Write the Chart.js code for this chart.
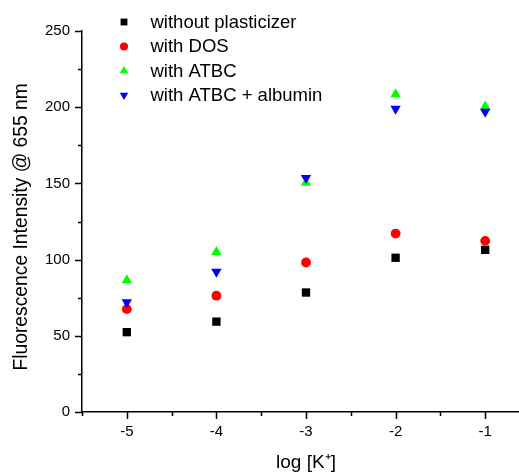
<!DOCTYPE html>
<html>
<head>
<meta charset="utf-8">
<script src="https://cdn.jsdelivr.net/npm/chart.js@4.4.1/dist/chart.umd.min.js"></script>
<style>
  html, body { margin: 0; padding: 0; background: #fff; overflow: hidden; }
  #wrap { width: 540px; height: 474px; }
</style>
</head>
<body>
<div id="wrap"><canvas id="chart" width="540" height="474"></canvas></div>
<script>
// log [K+] positions
const logK = [-5, -4, -3, -2, -1];

// fluorescence intensity @ 655 nm
const noPlasticizer = [52.4, 59.3, 78.4, 101.2, 106.4];
const withDOS = [67.5, 76.3, 98.1, 117.1, 112.3];
const withATBC = [86.5, 105, 150.5, 208.5, 200.5];
const withATBCAlbumin = [72, 92, 153.5, 199, 197];

const seriesNames = ['without plasticizer', 'with DOS', 'with ATBC', 'with ATBC + albumin'];

const FONT = "'Liberation Sans', Arial, sans-serif";

const toPoints = vals => vals.map((v, i) => ({ x: logK[i], y: v }));

// marker drawing for the legend (same shapes as the plot)
function drawMarker(ctx, style, x, y, r, rot, color) {
  ctx.fillStyle = color;
  ctx.beginPath();
  if (style === 'rect') {
    const s = r * Math.SQRT1_2;
    ctx.rect(x - s, y - s, 2 * s, 2 * s);
  } else if (style === 'circle') {
    ctx.arc(x, y, r, 0, Math.PI * 2);
  } else {
    let a = (rot || 0) * Math.PI / 180;
    ctx.moveTo(x + Math.sin(a) * r, y - Math.cos(a) * r);
    a += Math.PI * 2 / 3;
    ctx.lineTo(x + Math.sin(a) * r, y - Math.cos(a) * r);
    a += Math.PI * 2 / 3;
    ctx.lineTo(x + Math.sin(a) * r, y - Math.cos(a) * r);
    ctx.closePath();
  }
  ctx.fill();
}

const insideLegend = {
  id: 'insideLegend',
  afterDraw(chart) {
    const ctx = chart.ctx;
    ctx.save();
    ctx.font = '18.5px ' + FONT;
    ctx.textBaseline = 'middle';
    const sorted = chart.data.datasets.slice().sort((a, b) => a.legendIndex - b.legendIndex);
    sorted.forEach((ds, i) => {
      const y = 22 + i * 24.4;
      drawMarker(ctx, ds.pointStyle, 124, y, ds.pointRadius * 0.82, ds.rotation, ds.backgroundColor);
      ctx.fillStyle = '#000';
      ctx.fillText(ds.label, 150.5, y + 1);
    });
    ctx.restore();
  }
};

// outside tick marks, long for labelled values, short for the ones between
const tickMarks = {
  id: 'tickMarks',
  afterDraw(chart) {
    const { ctx, scales: { x, y } } = chart;
    ctx.save();
    ctx.strokeStyle = '#000';
    ctx.lineWidth = 1.5;
    y.ticks.forEach(t => {
      const py = Math.round(y.getPixelForValue(t.value)) + 0.5;
      const len = t.value % 50 === 0 ? 7 : 4;
      ctx.beginPath();
      ctx.moveTo(y.right - len, py);
      ctx.lineTo(y.right, py);
      ctx.stroke();
    });
    x.ticks.forEach(t => {
      const px = Math.round(x.getPixelForValue(t.value)) + 0.5;
      const len = Number.isInteger(t.value) ? 7 : 4;
      ctx.beginPath();
      ctx.moveTo(px, x.top);
      ctx.lineTo(px, x.top + len);
      ctx.stroke();
    });
    ctx.restore();
  }
};

const ctx = document.getElementById('chart').getContext('2d');

new Chart(ctx, {
  type: 'scatter',
  data: {
    datasets: [
      {
        label: seriesNames[0], legendIndex: 0, order: 3,
        data: toPoints(noPlasticizer),
        pointStyle: 'rect', pointRadius: 5.9, rotation: 0,
        backgroundColor: '#000000', borderWidth: 0
      },
      {
        label: seriesNames[1], legendIndex: 1, order: 2,
        data: toPoints(withDOS),
        pointStyle: 'circle', pointRadius: 4.9, rotation: 0,
        backgroundColor: '#ff0000', borderWidth: 0
      },
      {
        label: seriesNames[2], legendIndex: 2, order: 1,
        data: toPoints(withATBC),
        pointStyle: 'triangle', pointRadius: 6, rotation: 0,
        backgroundColor: '#00ff00', borderWidth: 0
      },
      {
        label: seriesNames[3], legendIndex: 3, order: 0,
        data: toPoints(withATBCAlbumin),
        pointStyle: 'triangle', pointRadius: 6, rotation: 180,
        backgroundColor: '#0000ff', borderWidth: 0
      }
    ]
  },
  options: {
    responsive: false,
    animation: false,
    layout: { padding: { left: 0, right: 10, top: 31, bottom: 0 } },
    plugins: {
      legend: { display: false },
      tooltip: { enabled: false }
    },
    scales: {
      x: {
        type: 'linear',
        min: -5.5,
        max: -0.5,
        afterFit: scale => { scale.height = 62; },
        border: { display: true, color: '#000', width: 1.5 },
        grid: { display: true, drawOnChartArea: false, drawTicks: true, tickLength: 7, tickColor: 'rgba(0,0,0,0)' },
        ticks: {
          stepSize: 0.5,
          padding: 4,
          color: '#000',
          font: { family: FONT, size: 15 },
          maxRotation: 0,
          autoSkip: false,
          callback: v => Number.isInteger(v) ? String(v) : ''
        },
        title: {
          display: true,
          text: 'log [K\u207A]',
          color: '#000',
          font: { family: FONT, size: 19 },
          padding: { top: 0, bottom: 0 }
        }
      },
      y: {
        min: 0,
        max: 250,
        afterFit: scale => { scale.width = 82; },
        border: { display: true, color: '#000', width: 1.5 },
        grid: { display: true, drawOnChartArea: false, drawTicks: true, tickLength: 7, tickColor: 'rgba(0,0,0,0)' },
        ticks: {
          stepSize: 25,
          padding: 5,
          color: '#000',
          font: { family: FONT, size: 15 },
          autoSkip: false,
          callback: v => v % 50 === 0 ? String(v) : ''
        },
        title: {
          display: true,
          // two trailing spaces nudge the rotated title down a little, as in the original
          text: 'Fluorescence Intensity @ 655 nm  ',
          color: '#000',
          font: { family: FONT, size: 19.3 },
          padding: { top: 10, bottom: 0 }
        }
      }
    }
  },
  plugins: [tickMarks, insideLegend]
});
</script>
</body>
</html>
